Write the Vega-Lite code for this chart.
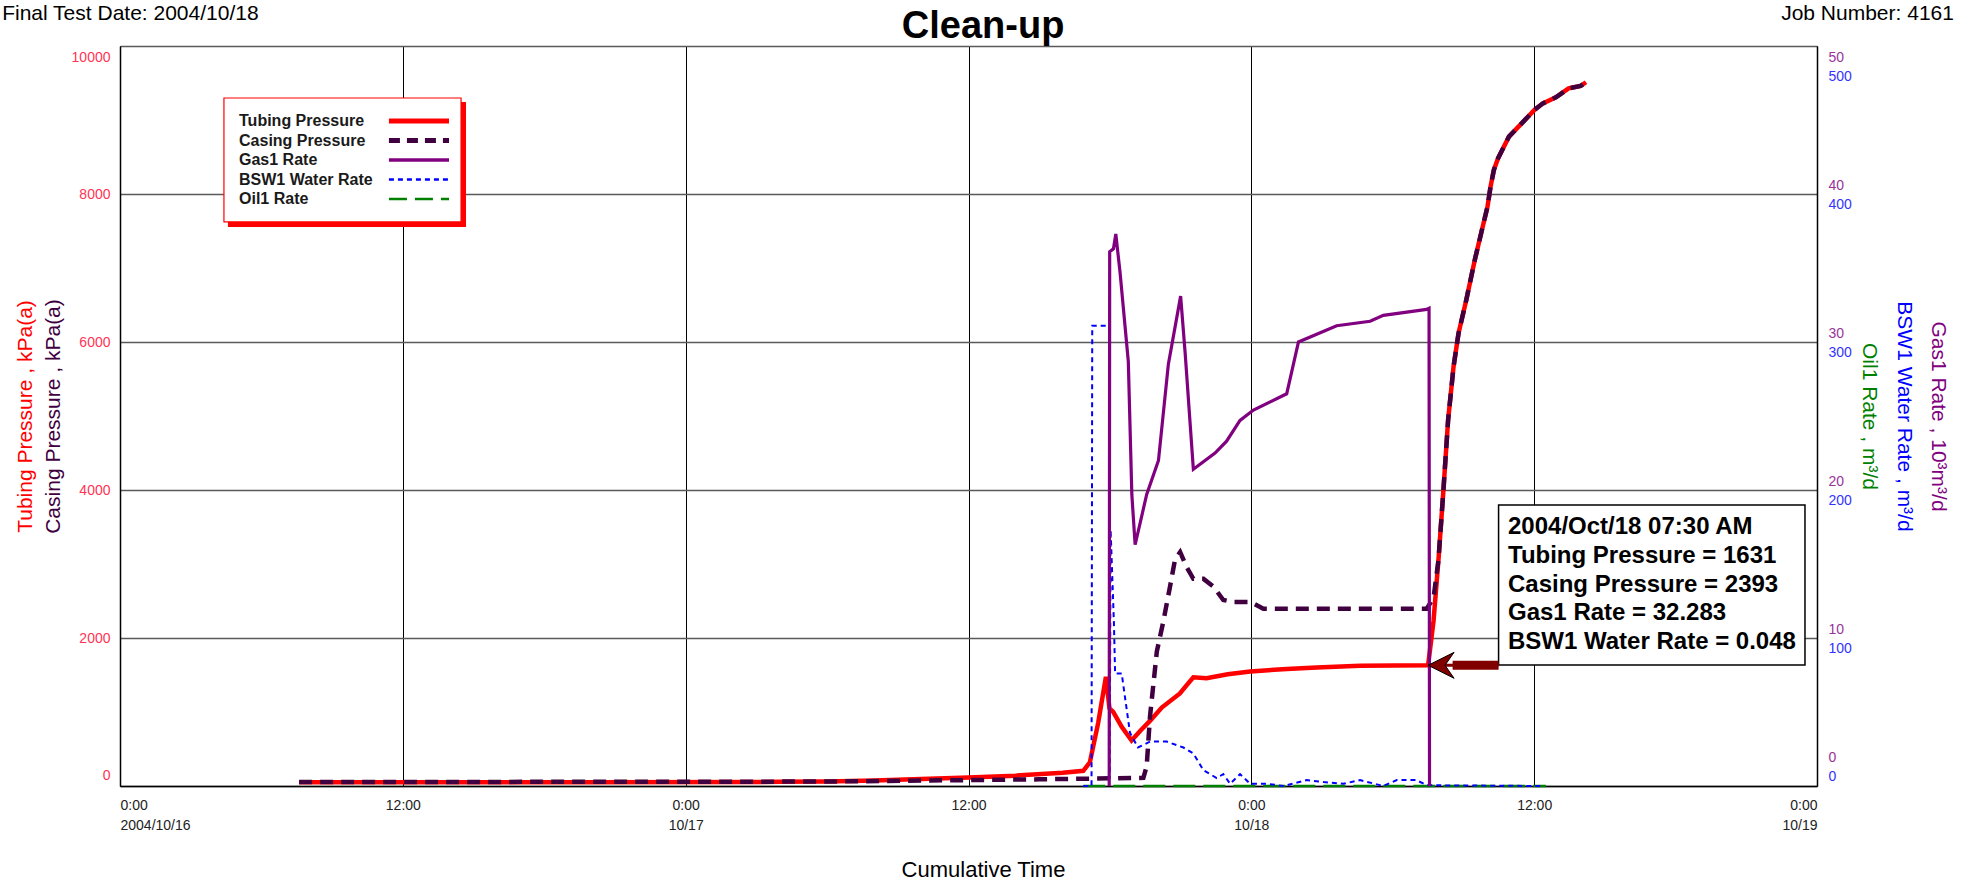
{
  "$schema": "https://vega.github.io/schema/vega-lite/v6.json",
  "width": 1697,
  "height": 740,
  "autosize": {"type": "none"},
  "padding": {"left": 120, "top": 46, "right": 152, "bottom": 95},
  "background": "white",
  "config": {
    "view": {"stroke": null},
    "font": "Liberation Sans",
    "axis": {"labelFont": "Liberation Sans", "titleFont": "Liberation Sans", "titleFontWeight": "normal"},
    "axisX": {
      "grid": true, "gridColor": "#000000", "gridWidth": 1,
      "ticks": false, "domainColor": "#000000", "domainWidth": 1.5,
      "labelFlush": true, "labelPadding": 12, "labelFontSize": 14, "labelLineHeight": 20, "labelColor": "#222222",
      "titleFontSize": 22, "titleColor": "#000000", "titleBaseline": "alphabetic", "titleAlign": "center"
    }
  },
  "datasets": {
    "tubing": [
      {"t": 7.6, "v": 50}, {"t": 20, "v": 52}, {"t": 28, "v": 56}, {"t": 30, "v": 62}, {"t": 32, "v": 75},
      {"t": 34, "v": 95}, {"t": 36, "v": 115}, {"t": 38, "v": 140}, {"t": 40.0, "v": 180}, {"t": 40.87, "v": 205},
      {"t": 41.15, "v": 320}, {"t": 41.5, "v": 850}, {"t": 41.83, "v": 1476}, {"t": 41.98, "v": 1050}, {"t": 42.14, "v": 1000},
      {"t": 42.5, "v": 800}, {"t": 42.92, "v": 615}, {"t": 43.3, "v": 750}, {"t": 43.7, "v": 880}, {"t": 44.2, "v": 1060},
      {"t": 44.97, "v": 1250}, {"t": 45.25, "v": 1360}, {"t": 45.54, "v": 1470}, {"t": 46.1, "v": 1455}, {"t": 47.0, "v": 1510},
      {"t": 47.95, "v": 1548}, {"t": 49.5, "v": 1582}, {"t": 50.77, "v": 1600}, {"t": 52.61, "v": 1625}, {"t": 55.5, "v": 1631},
      {"t": 55.73, "v": 2230}, {"t": 55.95, "v": 3100}, {"t": 56.15, "v": 4000}, {"t": 56.35, "v": 4950}, {"t": 56.58, "v": 5667},
      {"t": 56.79, "v": 6117}, {"t": 57.12, "v": 6568}, {"t": 57.48, "v": 7108}, {"t": 57.75, "v": 7469}, {"t": 58.02, "v": 7829},
      {"t": 58.15, "v": 8100}, {"t": 58.29, "v": 8325}, {"t": 58.47, "v": 8484}, {"t": 58.93, "v": 8775}, {"t": 59.47, "v": 8955},
      {"t": 60.01, "v": 9135}, {"t": 60.37, "v": 9225}, {"t": 60.92, "v": 9306}, {"t": 61.46, "v": 9427}, {"t": 61.97, "v": 9460},
      {"t": 62.2, "v": 9510}
    ],
    "casing": [
      {"t": 7.6, "v": 55}, {"t": 20, "v": 56}, {"t": 30, "v": 60}, {"t": 39, "v": 90}, {"t": 43.42, "v": 110},
      {"t": 43.56, "v": 265}, {"t": 43.7, "v": 937}, {"t": 43.99, "v": 1816}, {"t": 44.27, "v": 2230}, {"t": 44.55, "v": 2695},
      {"t": 44.76, "v": 3057}, {"t": 44.98, "v": 3161}, {"t": 45.26, "v": 2954}, {"t": 45.54, "v": 2799}, {"t": 45.97, "v": 2799},
      {"t": 46.39, "v": 2695}, {"t": 46.81, "v": 2514}, {"t": 47.24, "v": 2488}, {"t": 47.95, "v": 2488}, {"t": 48.51, "v": 2395},
      {"t": 55.44, "v": 2395}, {"t": 55.73, "v": 2540}, {"t": 55.94, "v": 3057}, {"t": 56.15, "v": 4000}, {"t": 56.35, "v": 4950},
      {"t": 56.58, "v": 5667}, {"t": 56.79, "v": 6117}, {"t": 57.12, "v": 6568}, {"t": 57.48, "v": 7108}, {"t": 57.75, "v": 7469},
      {"t": 58.02, "v": 7829}, {"t": 58.15, "v": 8100}, {"t": 58.29, "v": 8325}, {"t": 58.47, "v": 8484}, {"t": 58.93, "v": 8775},
      {"t": 59.47, "v": 8955}, {"t": 60.01, "v": 9135}, {"t": 60.37, "v": 9225}, {"t": 60.92, "v": 9306}, {"t": 61.46, "v": 9427},
      {"t": 61.97, "v": 9460}, {"t": 62.2, "v": 9510}
    ],
    "gas": [
      {"t": 41.97, "v": 0}, {"t": 41.99, "v": 36.1}, {"t": 42.15, "v": 36.3}, {"t": 42.25, "v": 37.3}, {"t": 42.43, "v": 34.7},
      {"t": 42.78, "v": 28.7}, {"t": 42.93, "v": 19.7}, {"t": 43.07, "v": 16.3}, {"t": 43.56, "v": 19.7}, {"t": 44.06, "v": 22.0},
      {"t": 44.48, "v": 28.5}, {"t": 45.0, "v": 33.1}, {"t": 45.19, "v": 29.3}, {"t": 45.54, "v": 21.4}, {"t": 46.46, "v": 22.5},
      {"t": 46.95, "v": 23.3}, {"t": 47.52, "v": 24.7}, {"t": 48.09, "v": 25.4}, {"t": 49.5, "v": 26.5}, {"t": 50.0, "v": 30.0},
      {"t": 51.62, "v": 31.1}, {"t": 53.04, "v": 31.4}, {"t": 53.6, "v": 31.8}, {"t": 55.44, "v": 32.2}, {"t": 55.54, "v": 32.28},
      {"t": 55.56, "v": 0}
    ],
    "water": [
      {"t": 40.87, "v": 0}, {"t": 41.22, "v": 0}, {"t": 41.25, "v": 311}, {"t": 41.96, "v": 311}, {"t": 41.99, "v": 5},
      {"t": 42.03, "v": 173}, {"t": 42.17, "v": 110}, {"t": 42.22, "v": 76}, {"t": 42.5, "v": 76}, {"t": 42.85, "v": 36},
      {"t": 43.19, "v": 26}, {"t": 43.7, "v": 30}, {"t": 44.41, "v": 30}, {"t": 45.12, "v": 26}, {"t": 45.54, "v": 22},
      {"t": 45.97, "v": 10.6}, {"t": 46.53, "v": 5.4}, {"t": 46.81, "v": 8}, {"t": 47.1, "v": 1.5}, {"t": 47.52, "v": 8},
      {"t": 47.95, "v": 1.5}, {"t": 48.66, "v": 1.5}, {"t": 49.36, "v": 0}, {"t": 50.35, "v": 4}, {"t": 51.06, "v": 2.7},
      {"t": 51.9, "v": 1.5}, {"t": 52.61, "v": 4}, {"t": 53.6, "v": 0}, {"t": 54.17, "v": 4}, {"t": 55.0, "v": 4},
      {"t": 55.44, "v": 0.5}, {"t": 60.3, "v": 0}
    ],
    "oil": [
      {"t": 40.87, "v": 0}, {"t": 50, "v": 0}, {"t": 60.5, "v": 0}
    ],
    "legend": [
      {"series": "Tubing Pressure"}, {"series": "Casing Pressure"}, {"series": "Gas1 Rate"},
      {"series": "BSW1 Water Rate"}, {"series": "Oil1 Rate"}
    ],
    "readout": [
      {"line": "2004/Oct/18 07:30 AM"}, {"line": "Tubing Pressure = 1631"}, {"line": "Casing Pressure = 2393"},
      {"line": "Gas1 Rate = 32.283"}, {"line": "BSW1 Water Rate = 0.048"}
    ]
  },
  "layer": [
    {
      "data": {"name": "tubing"},
      "mark": {"type": "line", "color": "#ff0000", "strokeWidth": 4.5},
      "encoding": {
        "x": {"field": "t", "type": "quantitative", "scale": {"domain": [0, 72], "nice": false, "zero": false},
              "axis": {"values": [0, 12, 24, 36, 48, 60, 72], "labelExpr": "datum.value % 24 === 0 ? ['0:00', datum.value === 0 ? '2004/10/16' : datum.value === 24 ? '10/17' : datum.value === 48 ? '10/18' : '10/19'] : '12:00'", "title": "Cumulative Time", "titleX": 863, "titleY": 90}},
        "y": {
          "field": "v", "type": "quantitative",
          "scale": {"domain": [0, 10000], "nice": false},
          "axis": {
            "orient": "left", "values": [0, 2000, 4000, 6000, 8000, 10000], "format": "d",
            "grid": true, "gridColor": "#5a5a5a", "gridWidth": 1.5,
            "ticks": false, "domainColor": "#000000", "domainWidth": 1.5,
            "labelColor": "#ff3355", "labelFontSize": 14, "labelPadding": 10,
            "labelFlush": true, "labelFlushOffset": -4,
            "title": "Tubing Pressure , kPa(a)", "titleColor": "#ff0000", "titleFontSize": 21,
            "titleX": -95, "titleY": 370, "titleAngle": 270, "titleBaseline": "middle", "titleAlign": "center"
          }
        }
      }
    },
    {
      "data": {"name": "casing"},
      "mark": {"type": "line", "color": "#400040", "strokeWidth": 4.5, "strokeDash": [13, 8]},
      "encoding": {
        "x": {"field": "t", "type": "quantitative",
              "axis": {"values": [0, 12, 24, 36, 48, 60, 72], "labelExpr": "datum.value % 24 === 0 ? ['0:00', datum.value === 0 ? '2004/10/16' : datum.value === 24 ? '10/17' : datum.value === 48 ? '10/18' : '10/19'] : '12:00'", "title": "Cumulative Time", "titleX": 863, "titleY": 90}},
        "y": {
          "field": "v", "type": "quantitative",
          "scale": {"domain": [0, 10000], "nice": false},
          "axis": {
            "orient": "left", "labels": false, "ticks": false, "domain": false, "grid": false,
            "title": "Casing Pressure , kPa(a)", "titleColor": "#400040", "titleFontSize": 21,
            "titleX": -67, "titleY": 370, "titleAngle": 270, "titleBaseline": "middle", "titleAlign": "center"
          }
        }
      }
    },
    {
      "data": {"name": "oil"},
      "mark": {"type": "line", "color": "#008000", "strokeWidth": 2.5, "strokeDash": [22, 8]},
      "encoding": {
        "x": {"field": "t", "type": "quantitative",
              "axis": {"values": [0, 12, 24, 36, 48, 60, 72], "labelExpr": "datum.value % 24 === 0 ? ['0:00', datum.value === 0 ? '2004/10/16' : datum.value === 24 ? '10/17' : datum.value === 48 ? '10/18' : '10/19'] : '12:00'", "title": "Cumulative Time", "titleX": 863, "titleY": 90}},
        "y": {
          "field": "v", "type": "quantitative",
          "scale": {"domain": [0, 50], "nice": false},
          "axis": {
            "orient": "right", "labels": false, "ticks": false, "domain": false, "grid": false,
            "title": "Oil1 Rate , m³/d", "titleColor": "#008000", "titleFontSize": 21,
            "titleX": 51, "titleY": 370, "titleAngle": 90, "titleBaseline": "middle", "titleAlign": "center"
          }
        }
      }
    },
    {
      "data": {"name": "water"},
      "mark": {"type": "line", "color": "#0000ff", "strokeWidth": 2, "strokeDash": [5, 4]},
      "encoding": {
        "x": {"field": "t", "type": "quantitative",
              "axis": {"values": [0, 12, 24, 36, 48, 60, 72], "labelExpr": "datum.value % 24 === 0 ? ['0:00', datum.value === 0 ? '2004/10/16' : datum.value === 24 ? '10/17' : datum.value === 48 ? '10/18' : '10/19'] : '12:00'", "title": "Cumulative Time", "titleX": 863, "titleY": 90}},
        "y": {
          "field": "v", "type": "quantitative",
          "scale": {"domain": [0, 500], "nice": false},
          "axis": {
            "orient": "right", "values": [0, 100, 200, 300, 400, 500],
            "ticks": false, "domain": false, "grid": false,
            "labelColor": "#3333ff", "labelFontSize": 14, "labelPadding": 11, "labelOffset": 10,
            "labelFlush": true, "labelFlushOffset": -13,
            "title": "BSW1 Water Rate , m³/d", "titleColor": "#0000ff", "titleFontSize": 21,
            "titleX": 86, "titleY": 370, "titleAngle": 90, "titleBaseline": "middle", "titleAlign": "center"
          }
        }
      }
    },
    {
      "data": {"name": "gas"},
      "mark": {"type": "line", "color": "#800080", "strokeWidth": 3.2},
      "encoding": {
        "x": {"field": "t", "type": "quantitative",
              "axis": {"values": [0, 12, 24, 36, 48, 60, 72], "labelExpr": "datum.value % 24 === 0 ? ['0:00', datum.value === 0 ? '2004/10/16' : datum.value === 24 ? '10/17' : datum.value === 48 ? '10/18' : '10/19'] : '12:00'", "title": "Cumulative Time", "titleX": 863, "titleY": 90}},
        "y": {
          "field": "v", "type": "quantitative",
          "scale": {"domain": [0, 50], "nice": false},
          "axis": {
            "orient": "right", "values": [0, 10, 20, 30, 40, 50],
            "ticks": false, "domain": true, "domainColor": "#000000", "domainWidth": 1.5, "grid": false,
            "labelColor": "#993399", "labelFontSize": 14, "labelPadding": 11, "labelOffset": -9,
            "labelFlush": true, "labelFlushOffset": -13,
            "title": "Gas1 Rate , 10³m³/d", "titleColor": "#800080", "titleFontSize": 21,
            "titleX": 120, "titleY": 370, "titleAngle": 90, "titleBaseline": "middle", "titleAlign": "center"
          }
        }
      }
    },
    {
      "data": {"values": [{}]},
      "mark": {"type": "rect", "fill": "#ff0000"},
      "encoding": {
        "x": {"datum": 4.58, "type": "quantitative",
              "axis": {"values": [0, 12, 24, 36, 48, 60, 72], "labelExpr": "datum.value % 24 === 0 ? ['0:00', datum.value === 0 ? '2004/10/16' : datum.value === 24 ? '10/17' : datum.value === 48 ? '10/18' : '10/19'] : '12:00'", "title": "Cumulative Time", "titleX": 863, "titleY": 90}},
        "x2": {"datum": 14.68},
        "y": {"datum": 9243, "type": "quantitative", "scale": {"domain": [0, 10000], "nice": false}, "axis": null},
        "y2": {"datum": 7554}
      }
    },
    {
      "data": {"values": [{}]},
      "mark": {"type": "rect", "fill": "#ffffff", "stroke": "#ff0000", "strokeWidth": 1.2},
      "encoding": {
        "x": {"datum": 4.41, "type": "quantitative",
              "axis": {"values": [0, 12, 24, 36, 48, 60, 72], "labelExpr": "datum.value % 24 === 0 ? ['0:00', datum.value === 0 ? '2004/10/16' : datum.value === 24 ? '10/17' : datum.value === 48 ? '10/18' : '10/19'] : '12:00'", "title": "Cumulative Time", "titleX": 863, "titleY": 90}},
        "x2": {"datum": 14.47},
        "y": {"datum": 9297, "type": "quantitative", "scale": {"domain": [0, 10000], "nice": false}, "axis": null},
        "y2": {"datum": 7622}
      }
    },
    {
      "data": {"name": "legend"},
      "layer": [
        {
          "mark": {"type": "text", "align": "left", "baseline": "middle", "fontSize": 16, "fontWeight": "bold", "color": "#1a1a1a"},
          "encoding": {
            "x": {"datum": 5.05, "type": "quantitative",
                  "axis": {"values": [0, 12, 24, 36, 48, 60, 72], "labelExpr": "datum.value % 24 === 0 ? ['0:00', datum.value === 0 ? '2004/10/16' : datum.value === 24 ? '10/17' : datum.value === 48 ? '10/18' : '10/19'] : '12:00'", "title": "Cumulative Time", "titleX": 863, "titleY": 90}},
            "y": {"field": "series", "type": "nominal", "sort": null,
                  "scale": {"type": "point", "domain": ["Tubing Pressure", "Casing Pressure", "Gas1 Rate", "BSW1 Water Rate", "Oil1 Rate"], "range": [75, 153], "padding": 0},
                  "axis": null},
            "text": {"field": "series"}
          }
        },
        {
          "mark": {"type": "rule"},
          "encoding": {
            "x": {"datum": 11.41, "type": "quantitative",
                  "axis": {"values": [0, 12, 24, 36, 48, 60, 72], "labelExpr": "datum.value % 24 === 0 ? ['0:00', datum.value === 0 ? '2004/10/16' : datum.value === 24 ? '10/17' : datum.value === 48 ? '10/18' : '10/19'] : '12:00'", "title": "Cumulative Time", "titleX": 863, "titleY": 90}},
            "x2": {"datum": 13.96},
            "y": {"field": "series", "type": "nominal", "sort": null,
                  "scale": {"type": "point", "domain": ["Tubing Pressure", "Casing Pressure", "Gas1 Rate", "BSW1 Water Rate", "Oil1 Rate"], "range": [75, 153], "padding": 0},
                  "axis": null},
            "stroke": {"field": "series", "type": "nominal", "legend": null,
                       "scale": {"domain": ["Tubing Pressure", "Casing Pressure", "Gas1 Rate", "BSW1 Water Rate", "Oil1 Rate"], "range": ["#ff0000", "#400040", "#800080", "#0000ff", "#008000"]}},
            "strokeDash": {"field": "series", "type": "nominal", "legend": null,
                       "scale": {"domain": ["Tubing Pressure", "Casing Pressure", "Gas1 Rate", "BSW1 Water Rate", "Oil1 Rate"], "range": [[1, 0], [11, 7], [1, 0], [5, 4], [18, 8]]}},
            "strokeWidth": {"field": "series", "type": "ordinal", "legend": null,
                       "scale": {"type": "ordinal", "domain": ["Tubing Pressure", "Casing Pressure", "Gas1 Rate", "BSW1 Water Rate", "Oil1 Rate"], "range": [5, 5, 3.5, 2.5, 2.5]}}
          }
        }
      ]
    },
    {
      "data": {"values": [{}]},
      "mark": {"type": "rect", "fill": "#ffffff", "stroke": "#000000", "strokeWidth": 1.5},
      "encoding": {
        "x": {"datum": 58.49, "type": "quantitative",
              "axis": {"values": [0, 12, 24, 36, 48, 60, 72], "labelExpr": "datum.value % 24 === 0 ? ['0:00', datum.value === 0 ? '2004/10/16' : datum.value === 24 ? '10/17' : datum.value === 48 ? '10/18' : '10/19'] : '12:00'", "title": "Cumulative Time", "titleX": 863, "titleY": 90}},
        "x2": {"datum": 71.49},
        "y": {"datum": 1635, "type": "quantitative", "scale": {"domain": [0, 10000], "nice": false}, "axis": null},
        "y2": {"datum": 3797}
      }
    },
    {
      "data": {"values": [{}]},
      "mark": {"type": "rule", "color": "#800000", "strokeWidth": 3},
      "encoding": {
        "x": {"datum": 55.6, "type": "quantitative",
              "axis": {"values": [0, 12, 24, 36, 48, 60, 72], "labelExpr": "datum.value % 24 === 0 ? ['0:00', datum.value === 0 ? '2004/10/16' : datum.value === 24 ? '10/17' : datum.value === 48 ? '10/18' : '10/19'] : '12:00'", "title": "Cumulative Time", "titleX": 863, "titleY": 90}},
        "x2": {"datum": 58.49},
        "y": {"datum": 1631, "type": "quantitative", "scale": {"domain": [0, 10000], "nice": false}, "axis": null}
      }
    },
    {
      "data": {"values": [{}]},
      "mark": {"type": "rule", "color": "#800000", "strokeWidth": 9},
      "encoding": {
        "x": {"datum": 56.54, "type": "quantitative",
              "axis": {"values": [0, 12, 24, 36, 48, 60, 72], "labelExpr": "datum.value % 24 === 0 ? ['0:00', datum.value === 0 ? '2004/10/16' : datum.value === 24 ? '10/17' : datum.value === 48 ? '10/18' : '10/19'] : '12:00'", "title": "Cumulative Time", "titleX": 863, "titleY": 90}},
        "x2": {"datum": 58.49},
        "y": {"datum": 1631, "type": "quantitative", "scale": {"domain": [0, 10000], "nice": false}, "axis": null}
      }
    },
    {
      "data": {"values": [{}]},
      "mark": {"type": "point", "shape": "M0,0L2,-1L1.3,0L2,1Z", "size": 676, "filled": true, "fill": "#800000", "stroke": "#000000", "strokeWidth": 1, "opacity": 1},
      "encoding": {
        "x": {"datum": 55.5, "type": "quantitative",
              "axis": {"values": [0, 12, 24, 36, 48, 60, 72], "labelExpr": "datum.value % 24 === 0 ? ['0:00', datum.value === 0 ? '2004/10/16' : datum.value === 24 ? '10/17' : datum.value === 48 ? '10/18' : '10/19'] : '12:00'", "title": "Cumulative Time", "titleX": 863, "titleY": 90}},
        "y": {"datum": 1631, "type": "quantitative", "scale": {"domain": [0, 10000], "nice": false}, "axis": null}
      }
    },
    {
      "data": {"name": "readout"},
      "mark": {"type": "text", "align": "left", "baseline": "middle", "fontSize": 24, "fontWeight": "bold", "color": "#000000"},
      "encoding": {
        "x": {"datum": 58.89, "type": "quantitative",
              "axis": {"values": [0, 12, 24, 36, 48, 60, 72], "labelExpr": "datum.value % 24 === 0 ? ['0:00', datum.value === 0 ? '2004/10/16' : datum.value === 24 ? '10/17' : datum.value === 48 ? '10/18' : '10/19'] : '12:00'", "title": "Cumulative Time", "titleX": 863, "titleY": 90}},
        "y": {"field": "line", "type": "nominal", "sort": null,
              "scale": {"type": "point", "domain": ["2004/Oct/18 07:30 AM", "Tubing Pressure = 1631", "Casing Pressure = 2393", "Gas1 Rate = 32.283", "BSW1 Water Rate = 0.048"], "range": [481, 596], "padding": 0},
              "axis": null},
        "text": {"field": "line"}
      }
    },
    {
      "data": {"values": [{"label": "Final Test Date: 2004/10/18"}]},
      "mark": {"type": "text", "align": "left", "baseline": "alphabetic", "fontSize": 21, "color": "#000000"},
      "encoding": {
        "x": {"datum": -5.0, "type": "quantitative",
              "axis": {"values": [0, 12, 24, 36, 48, 60, 72], "labelExpr": "datum.value % 24 === 0 ? ['0:00', datum.value === 0 ? '2004/10/16' : datum.value === 24 ? '10/17' : datum.value === 48 ? '10/18' : '10/19'] : '12:00'", "title": "Cumulative Time", "titleX": 863, "titleY": 90}},
        "y": {"datum": 10350, "type": "quantitative", "scale": {"domain": [0, 10000], "nice": false}, "axis": null},
        "text": {"field": "label"}
      }
    },
    {
      "data": {"values": [{"label": "Job Number: 4161"}]},
      "mark": {"type": "text", "align": "right", "baseline": "alphabetic", "fontSize": 21, "color": "#000000"},
      "encoding": {
        "x": {"datum": 77.81, "type": "quantitative",
              "axis": {"values": [0, 12, 24, 36, 48, 60, 72], "labelExpr": "datum.value % 24 === 0 ? ['0:00', datum.value === 0 ? '2004/10/16' : datum.value === 24 ? '10/17' : datum.value === 48 ? '10/18' : '10/19'] : '12:00'", "title": "Cumulative Time", "titleX": 863, "titleY": 90}},
        "y": {"datum": 10350, "type": "quantitative", "scale": {"domain": [0, 10000], "nice": false}, "axis": null},
        "text": {"field": "label"}
      }
    },
    {
      "data": {"values": [{"label": "Clean-up"}]},
      "mark": {"type": "text", "align": "center", "baseline": "alphabetic", "fontSize": 38, "fontWeight": "bold", "color": "#000000"},
      "encoding": {
        "x": {"datum": 36.62, "type": "quantitative",
              "axis": {"values": [0, 12, 24, 36, 48, 60, 72], "labelExpr": "datum.value % 24 === 0 ? ['0:00', datum.value === 0 ? '2004/10/16' : datum.value === 24 ? '10/17' : datum.value === 48 ? '10/18' : '10/19'] : '12:00'", "title": "Cumulative Time", "titleX": 863, "titleY": 90}},
        "y": {"datum": 10108, "type": "quantitative", "scale": {"domain": [0, 10000], "nice": false}, "axis": null},
        "text": {"field": "label"}
      }
    }
  ],
  "resolve": {"scale": {"y": "independent"}, "axis": {"y": "independent"}}
}
